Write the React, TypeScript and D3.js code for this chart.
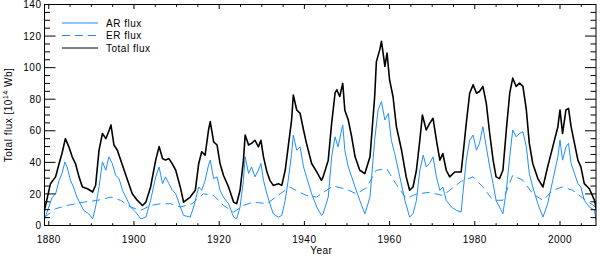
import { useEffect, useRef } from 'react';
import * as d3 from 'd3';

// values, [year, flux in 1e14 Wb]
const totalFlux: [number, number][] = [
  [1878.9, 8.5], [1880.4, 26.5], [1881.6, 30.8], [1882.4, 39], [1883.1, 45.6], [1883.9, 55],
  [1884.7, 50], [1885.5, 43.5], [1886.3, 39], [1887.1, 30.8], [1887.9, 24.4], [1889.1, 23.3],
  [1890.3, 21.2], [1891.0, 25.5], [1891.8, 47.7], [1892.6, 58.3], [1893.4, 55], [1894.2, 60.5],
  [1894.6, 63.7], [1895.3, 51], [1896.1, 47.7], [1896.9, 41.4], [1897.7, 35], [1898.5, 28.6],
  [1899.6, 20.1], [1900.8, 15.9], [1902.0, 12.7], [1902.8, 14.8], [1903.9, 24.4], [1905.1, 41.4],
  [1905.9, 50], [1906.7, 42.4], [1907.4, 41.4], [1908.2, 42.4], [1909.0, 39], [1909.8, 35],
  [1910.9, 24], [1911.65, 14.8], [1913.2, 18], [1914.4, 22.3], [1915.2, 39.3], [1915.9, 46.7],
  [1916.7, 44.6], [1917.5, 60.5], [1917.9, 65.8], [1918.7, 53], [1919.5, 51], [1920.2, 39.3],
  [1921.0, 31.8], [1922.2, 24.4], [1923.4, 14.8], [1924.1, 13.8], [1924.9, 22.3], [1925.7, 41.4],
  [1926.1, 57.3], [1926.9, 51], [1927.6, 52], [1928.4, 54], [1929.2, 49.8], [1929.8, 54],
  [1930.4, 43.5], [1931.2, 34], [1931.9, 28.6], [1932.7, 25.4], [1933.9, 26.5], [1934.7, 25.4],
  [1935.5, 35], [1936.2, 49.8], [1937.0, 66.8], [1937.4, 82.7], [1938.2, 73.2], [1939.0, 71],
  [1939.8, 60.5], [1940.5, 52], [1941.7, 39.3], [1942.9, 34], [1944.0, 28.6], [1944.4, 30.8],
  [1945.6, 41.4], [1946.4, 64.7], [1947.2, 83.8], [1947.6, 86], [1948.3, 81.7], [1949.0, 90],
  [1949.5, 73], [1950.3, 66.8], [1951.1, 56.2], [1951.9, 43.5], [1953.0, 35], [1954.2, 32.9],
  [1955.4, 43.5], [1956.5, 81.7], [1956.9, 103.8], [1957.7, 111.4], [1958.1, 116.7], [1958.9, 100.8],
  [1959.4, 109.3], [1960.0, 92.3], [1960.8, 81.7], [1961.6, 62.6], [1962.8, 47.8], [1963.9, 30.8],
  [1964.7, 22.3], [1965.5, 24.4], [1966.3, 35], [1967.1, 54.1], [1967.7, 70], [1968.6, 60.5],
  [1969.4, 64.7], [1970.2, 67.9], [1971.0, 54], [1971.8, 41.4], [1972.5, 45.6], [1973.3, 35],
  [1974.1, 30.8], [1975.3, 33.9], [1976.8, 34], [1977.2, 44], [1978.0, 64.7], [1978.8, 83.8],
  [1979.6, 89.1], [1980.4, 83.8], [1981.1, 84.9], [1981.9, 88.1], [1982.7, 77.4], [1983.5, 58.3],
  [1984.3, 41.4], [1985.0, 30.8], [1985.8, 29.7], [1986.6, 35], [1987.4, 60.5], [1988.2, 83.8],
  [1988.9, 93.4], [1989.7, 88.1], [1990.5, 90.2], [1991.3, 88.1], [1992.1, 73.2], [1992.8, 52],
  [1993.6, 39.3], [1994.8, 29.7], [1996.0, 24.4], [1997.1, 37.1], [1998.3, 49.8], [1999.5, 62.6],
  [2000.0, 73.2], [2000.6, 58.3], [2001.4, 73.2], [2002.0, 74.2], [2002.6, 62.6], [2003.4, 52],
  [2004.2, 41.4], [2004.9, 37.1], [2005.7, 26.5], [2006.9, 23.3], [2008.1, 15.9], [2008.6, 9.5],
];

const arFlux: [number, number][] = [
  [1878.9, 3.2], [1880.0, 11.7], [1880.8, 17.8], [1881.6, 19.9], [1882.4, 28.4], [1883.1, 32.9],
  [1883.8, 40.3], [1884.3, 37.1], [1885.1, 28.6], [1885.8, 24.4], [1886.6, 18], [1887.4, 13.8],
  [1888.2, 9.6], [1889.4, 7.4], [1890.3, 4.2], [1891.0, 11.7], [1891.8, 24.4], [1892.6, 40.3],
  [1893.4, 35], [1894.1, 43.5], [1894.9, 39.3], [1895.7, 31.8], [1896.5, 29.7], [1897.3, 22.3],
  [1898.1, 18], [1899.2, 11.7], [1900.4, 8.5], [1901.6, 4.2], [1902.8, 5.3], [1903.9, 15.9],
  [1905.1, 30.8], [1905.9, 37.1], [1906.7, 26.5], [1907.4, 30.8], [1908.2, 26.5], [1909.0, 22.3],
  [1909.8, 20.1], [1910.9, 11.7], [1911.65, 6.4], [1913.2, 5.3], [1914.0, 11.7], [1915.2, 24.4],
  [1915.9, 22.3], [1916.7, 28.6], [1917.5, 38.2], [1917.9, 41.4], [1918.7, 29.7], [1919.5, 30.8],
  [1920.2, 22.3], [1921.0, 18], [1922.2, 13.8], [1923.4, 5.3], [1924.1, 4.2], [1924.9, 11.7],
  [1925.7, 28.6], [1926.1, 43.5], [1926.9, 33], [1927.6, 37.1], [1928.4, 30.8], [1929.2, 35],
  [1929.8, 39.3], [1930.4, 28.6], [1931.2, 20.1], [1931.9, 13.8], [1932.7, 7.4], [1933.9, 5.3],
  [1934.7, 6.4], [1935.5, 15.9], [1936.2, 28.6], [1937.0, 45.6], [1937.4, 57.3], [1938.2, 47.7],
  [1939.0, 49.8], [1939.8, 37.1], [1940.5, 30.8], [1941.7, 20.1], [1942.9, 11.7], [1944.0, 6.4],
  [1944.4, 7.4], [1945.6, 18], [1946.4, 43.5], [1947.2, 56.2], [1947.9, 49.8], [1949.0, 63.7],
  [1949.5, 47.7], [1950.3, 37.1], [1951.1, 30.8], [1951.9, 24.4], [1953.0, 15.9], [1954.2, 7.4],
  [1955.4, 18], [1956.5, 54.1], [1957.3, 73.2], [1958.1, 78.5], [1958.9, 66.8], [1959.7, 71],
  [1960.4, 54.1], [1961.2, 45.6], [1962.4, 30.8], [1963.6, 15.9], [1964.7, 5.3], [1965.5, 7.4],
  [1966.3, 15.9], [1967.1, 35], [1967.9, 44.6], [1968.6, 37.1], [1969.4, 39.3], [1970.2, 43.5],
  [1971.0, 30.8], [1971.8, 22.3], [1972.5, 24.4], [1973.3, 15.9], [1974.5, 11.7], [1975.7, 9.6],
  [1976.8, 8.5], [1977.2, 20], [1978.0, 41.4], [1978.8, 54.1], [1979.6, 57.3], [1980.4, 47.7],
  [1981.1, 52], [1981.9, 62.6], [1982.7, 49.8], [1983.5, 37.1], [1984.3, 26.5], [1985.0, 15.9],
  [1985.8, 11.7], [1986.6, 7.4], [1987.4, 22.3], [1988.2, 43.5], [1988.9, 60.5], [1989.7, 56.2],
  [1990.5, 58.3], [1991.3, 59.4], [1992.1, 49.8], [1992.8, 32.9], [1993.6, 24.4], [1994.8, 13.8],
  [1996.0, 5.3], [1997.1, 13.8], [1998.3, 28.6], [1999.5, 43.5], [2000.0, 54.1], [2000.6, 41.4],
  [2001.4, 49.8], [2002.0, 52], [2002.6, 39.3], [2003.4, 32.9], [2004.2, 26.5], [2004.9, 24.4],
  [2005.7, 15.9], [2006.9, 11.7], [2008.1, 9.6], [2008.6, 1.1],
];

const erFlux: [number, number][] = [
  [1878.9, 5], [1881.6, 10.6], [1884.3, 12.7], [1888.2, 14.8], [1891.4, 15.9], [1894.6, 18],
  [1896.9, 15.9], [1899.2, 11.7], [1901.6, 9.6], [1903.9, 12.7], [1906.3, 13.8], [1908.6, 13.8],
  [1910.9, 11.7], [1913.6, 13.8], [1916.3, 20.1], [1918.7, 19.1], [1921.0, 12.7], [1923.4, 8.5],
  [1925.7, 12.7], [1928.0, 14.8], [1931.2, 13.8], [1934.3, 20.1], [1936.6, 24.4], [1938.2, 22],
  [1940.5, 19], [1942.9, 18], [1944.4, 21], [1946.8, 25], [1949.9, 23], [1952.2, 20],
  [1954.6, 24], [1956.9, 35], [1959.3, 36], [1961.6, 26], [1963.9, 17], [1966.3, 20],
  [1969.4, 21], [1972.5, 19], [1974.9, 24], [1976.8, 28], [1979.6, 30.8], [1981.9, 24.4],
  [1984.3, 15.9], [1986.6, 16], [1988.9, 31.8], [1991.3, 28.6], [1993.6, 20.1], [1996.0, 15.9],
  [1998.3, 22.3], [2000.6, 24.4], [2003.0, 22.3], [2006.1, 15.9], [2008.4, 11.7],
];

const xTicks = [1880, 1900, 1920, 1940, 1960, 1980, 2000];
const yTicks = [0, 20, 40, 60, 80, 100, 120, 140];

const legendItems = [
  { label: 'AR flux', color: '#1e8fff', dash: null },
  { label: 'ER flux', color: '#1e8fff', dash: '8,5' },
  { label: 'Total flux', color: '#000', dash: null },
];

const App = () => {
  const svgRef = useRef<SVGSVGElement>(null);

  useEffect(() => {
    const width = 600;
    const height = 259;
    const left = 44.5;
    const right = 596;
    const top = 4.5;
    const bottom = 225.5;
    const font = '"Liberation Sans", Arial, sans-serif';

    const x = d3.scaleLinear().domain([1879, 2008.45]).range([left, right]);
    const y = d3.scaleLinear().domain([0, 140]).range([bottom, top]);

    const svg = d3.select(svgRef.current);
    svg.selectAll('*').remove();
    svg.attr('width', width).attr('height', height);

    svg.append('defs').append('clipPath').attr('id', 'plot-clip')
      .append('rect').attr('x', left).attr('y', top)
      .attr('width', right - left).attr('height', bottom - top);

    const line = d3.line<[number, number]>().x((d) => x(d[0])).y((d) => y(d[1]));
    const plot = svg.append('g').attr('clip-path', 'url(#plot-clip)');

    plot.append('path').datum(erFlux).attr('d', line)
      .attr('fill', 'none').attr('stroke', '#1e8fff').attr('stroke-width', 1)
      .attr('stroke-dasharray', '8,5');
    plot.append('path').datum(arFlux).attr('d', line)
      .attr('fill', 'none').attr('stroke', '#1e8fff').attr('stroke-width', 1);
    plot.append('path').datum(totalFlux).attr('d', line)
      .attr('fill', 'none').attr('stroke', '#000').attr('stroke-width', 1.6)
      .attr('stroke-linejoin', 'round');

    // box with IDL-style inward ticks on all four sides
    const frame = svg.append('g').attr('stroke', '#000').attr('stroke-width', 1);
    frame.append('rect').attr('x', left).attr('y', top)
      .attr('width', right - left).attr('height', bottom - top).attr('fill', 'none');

    const xMinor = d3.range(1880, 2009, 5);
    const yMinor = d3.range(0, 141, 5);
    xMinor.forEach((t) => {
      const len = t % 20 === 0 ? 4.5 : 2.3;
      frame.append('line').attr('x1', x(t)).attr('x2', x(t)).attr('y1', bottom).attr('y2', bottom - len);
      frame.append('line').attr('x1', x(t)).attr('x2', x(t)).attr('y1', top).attr('y2', top + len);
    });
    yMinor.forEach((t) => {
      const len = t % 20 === 0 ? 11 : 5.5;
      frame.append('line').attr('y1', y(t)).attr('y2', y(t)).attr('x1', left).attr('x2', left + len);
      frame.append('line').attr('y1', y(t)).attr('y2', y(t)).attr('x1', right).attr('x2', right - len);
    });

    const labels = svg.append('g').attr('font-family', font).attr('font-size', 10)
      .attr('letter-spacing', 0.5).attr('fill', '#000');

    xTicks.forEach((t) => {
      labels.append('text').attr('x', x(t)).attr('y', 242.5)
        .attr('text-anchor', 'middle').text(String(t));
    });
    yTicks.forEach((t) => {
      labels.append('text').attr('x', 41.5).attr('y', y(t) + 3.6)
        .attr('text-anchor', 'end').text(String(t));
    });

    labels.append('text').attr('x', (left + right) / 2 + 1).attr('y', 254)
      .attr('text-anchor', 'middle').text('Year');

    const yLabel = labels.append('text')
      .attr('transform', `translate(12,${(top + bottom) / 2}) rotate(-90)`)
      .attr('text-anchor', 'middle');
    yLabel.append('tspan').text('Total flux [10');
    yLabel.append('tspan').attr('dy', -4).attr('font-size', 7).text('14');
    yLabel.append('tspan').attr('dy', 4).text(' Wb]');

    // legend
    legendItems.forEach((item, i) => {
      const ly = 23 + i * 12.5;
      labels.append('line').attr('x1', 62).attr('x2', 98).attr('y1', ly).attr('y2', ly)
        .attr('stroke', item.color).attr('stroke-width', 1)
        .attr('stroke-dasharray', item.dash);
      labels.append('text').attr('x', 106).attr('y', ly + 3.6).text(item.label);
    });
  }, []);

  return (
    <div style={{ position: 'absolute', left: 0, top: 0 }}>
      <svg ref={svgRef} style={{ display: 'block', background: '#fff' }} />
    </div>
  );
};

export default App;
